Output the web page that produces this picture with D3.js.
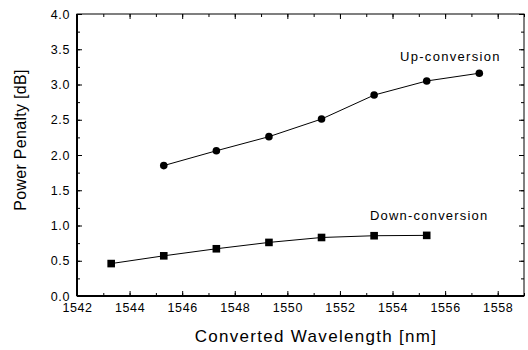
<!DOCTYPE html>
<html><head><meta charset="utf-8">
<script src="https://cdn.jsdelivr.net/npm/d3@7"></script>
<style>body{margin:0;background:#fff}svg{display:block;font-family:"Liberation Sans",Arial,sans-serif}</style>
</head><body><svg id="c" width="528" height="350"></svg>
<script>
const upX = [1545.3, 1547.3, 1549.3, 1551.3, 1553.3, 1555.3, 1557.3];
const upY = [1.85, 2.06, 2.26, 2.51, 2.85, 3.05, 3.16];
const downX = [1543.3, 1545.3, 1547.3, 1549.3, 1551.3, 1553.3, 1555.3];
const downY = [0.46, 0.57, 0.67, 0.76, 0.83, 0.855, 0.86];
const xTicks = [1542, 1544, 1546, 1548, 1550, 1552, 1554, 1556, 1558];
const yTicks = [0.0, 0.5, 1.0, 1.5, 2.0, 2.5, 3.0, 3.5, 4.0];

const svg = d3.select("#c");
const L = 77, R = 524, T = 14, B = 296;
const x = d3.scaleLinear().domain([1542, 1559]).range([L, R]);
const y = d3.scaleLinear().domain([0, 4]).range([B, T]);

const g = svg.append("g");
g.append("rect").attr("x", L).attr("y", T).attr("width", R - L).attr("height", B - T)
  .attr("fill", "none").attr("stroke", "#000").attr("stroke-width", 1);
g.append("line").attr("x1", L).attr("x2", L).attr("y1", T).attr("y2", B).attr("stroke", "#000").attr("stroke-width", 2);
g.append("line").attr("x1", L).attr("x2", R).attr("y1", B).attr("y2", B).attr("stroke", "#000").attr("stroke-width", 2);

const minorX = d3.range(1542, 1559.01, 1);
const minorY = d3.range(0, 4.01, 0.25);

function styleAxis(sel) {
  sel.select(".domain").remove();
  sel.selectAll("line").attr("stroke", "#000");
  sel.selectAll("text").attr("font-size", 12.5).attr("letter-spacing", 0.6).attr("fill", "#000");
}
g.append("g").attr("transform", `translate(0,${B})`)
  .call(d3.axisBottom(x).tickValues(minorX).tickSize(-3).tickFormat("")).call(styleAxis);
g.append("g").attr("transform", `translate(0,${B})`)
  .call(d3.axisBottom(x).tickValues(xTicks).tickSize(-5).tickPadding(7).tickFormat(d3.format("d"))).call(styleAxis);
g.append("g").attr("transform", `translate(0,${T})`)
  .call(d3.axisTop(x).tickValues(minorX).tickSize(-3).tickFormat("")).call(styleAxis);
g.append("g").attr("transform", `translate(0,${T})`)
  .call(d3.axisTop(x).tickValues(xTicks).tickSize(-5).tickFormat("")).call(styleAxis);
g.append("g").attr("transform", `translate(${L},0)`)
  .call(d3.axisLeft(y).tickValues(minorY).tickSize(-3).tickFormat("")).call(styleAxis);
g.append("g").attr("transform", `translate(${L},0)`)
  .call(d3.axisLeft(y).tickValues(yTicks).tickSize(-5).tickPadding(7).tickFormat(d3.format(".1f"))).call(styleAxis);
g.append("g").attr("transform", `translate(${R},0)`)
  .call(d3.axisRight(y).tickValues(minorY).tickSize(-3).tickFormat("")).call(styleAxis);
g.append("g").attr("transform", `translate(${R},0)`)
  .call(d3.axisRight(y).tickValues(yTicks).tickSize(-5).tickFormat("")).call(styleAxis);

const line = d3.line().x(d => x(d[0])).y(d => y(d[1]));
const up = upX.map((v, i) => [v, upY[i]]);
const down = downX.map((v, i) => [v, downY[i]]);

g.append("path").datum(up).attr("d", line).attr("fill", "none").attr("stroke", "#000").attr("stroke-width", 1);
g.append("path").datum(down).attr("d", line).attr("fill", "none").attr("stroke", "#000").attr("stroke-width", 1);

g.selectAll(".up").data(up).enter().append("circle")
  .attr("cx", d => x(d[0])).attr("cy", d => y(d[1])).attr("r", 3.8).attr("fill", "#000");
g.selectAll(".dn").data(down).enter().append("rect")
  .attr("x", d => x(d[0]) - 3.8).attr("y", d => y(d[1]) - 3.8)
  .attr("width", 7.6).attr("height", 7.6).attr("fill", "#000");

g.append("text").attr("x", 400).attr("y", 61).attr("font-size", 13).attr("letter-spacing", 1.3).text("Up-conversion");
g.append("text").attr("x", 370).attr("y", 220).attr("font-size", 13).attr("letter-spacing", 1.2).text("Down-conversion");

g.append("text").attr("x", 316).attr("y", 342).attr("text-anchor", "middle").attr("font-size", 17).attr("letter-spacing", 1.3).text("Converted Wavelength [nm]");
g.append("text").attr("transform", "translate(26,140) rotate(-90)").attr("text-anchor", "middle").attr("font-size", 16).attr("letter-spacing", 0.3).text("Power Penalty [dB]");
</script></body></html>
